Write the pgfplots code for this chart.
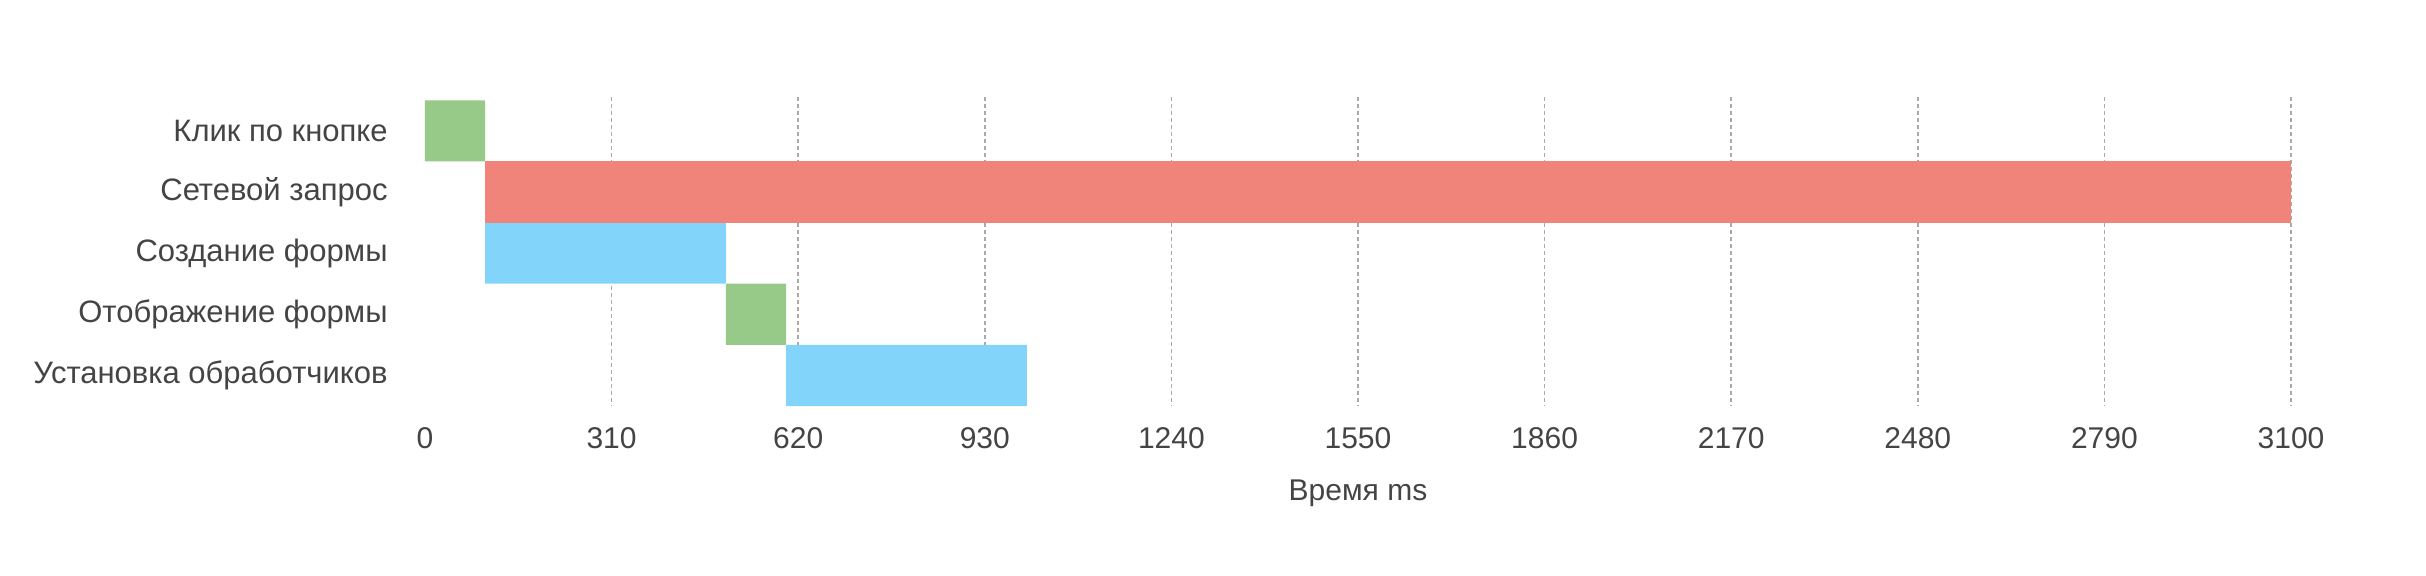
\documentclass[border=0pt]{standalone}
\usepackage{fontspec}
\setmainfont{Liberation Sans}
\usepackage{pgfplots}
\pgfplotsset{compat=1.18}
\definecolor{barGreen}{HTML}{97CA89}
\definecolor{barRed}{HTML}{F0837A}
\definecolor{barBlue}{HTML}{83D4FB}
\definecolor{txt}{HTML}{444444}
\definecolor{gridc}{HTML}{AAAAAA}
\begin{document}
\begin{tikzpicture}
\begin{axis}[
    at={(0,0)}, anchor=south west,
    scale only axis, width=933bp, height=154.5bp,
    xbar stacked, bar width=1,
    xmin=0, xmax=3100, ymin=-0.554, ymax=4.5, y dir=reverse,
    axis line style={draw=none}, tick style={draw=none},
    xtick={310,620,...,3100},
    extra x ticks={0}, extra x tick style={grid=none},
    xmajorgrids,
    grid style={gridc, line width=0.75bp, dash pattern=on 2bp off 1.5bp},
    ytick={0,1,2,3,4},
    yticklabels={Клик по кнопке, Сетевой запрос, Создание формы, Отображение формы, Установка обработчиков},
    font=\fontsize{15bp}{18bp}\selectfont,
    every tick label/.append style={text=txt},
    xticklabel style={anchor=center, inner sep=0pt, yshift=-16bp},
    yticklabel style={anchor=east, inner sep=0pt, xshift=-18.5bp, font=\fontsize{15.5bp}{18bp}\selectfont},
    /pgf/number format/assume math mode=true,
    /pgf/number format/1000 sep={},
    xlabel={Время ms},
    xlabel style={at={(axis description cs:0.5,0)}, anchor=center, yshift=-43.5bp, text=txt},
]
% invisible offsets
\addplot[draw=none, fill=none] coordinates {(0,0) (100,1) (100,2) (500,3) (600,4)};
\addplot[draw=none, fill=barGreen] coordinates {(100,0) (0,1) (0,2) (100,3) (0,4)};
\addplot[draw=none, fill=barRed] coordinates {(0,0) (3000,1) (0,2) (0,3) (0,4)};
\addplot[draw=none, fill=barBlue] coordinates {(0,0) (0,1) (400,2) (0,3) (400,4)};
\end{axis}
\pgfresetboundingbox
\path[use as bounding box] (-212.5bp,-85bp) rectangle (1000.5bp,203bp);
\end{tikzpicture}
\end{document}
